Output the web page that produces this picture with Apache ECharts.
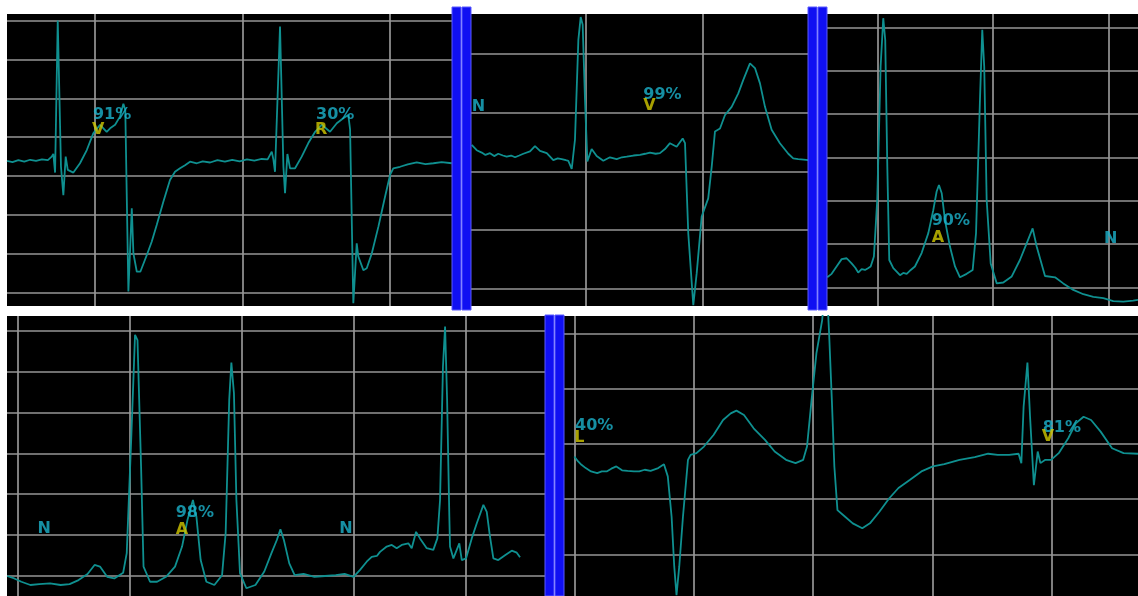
<!DOCTYPE html>
<html>
<head>
<meta charset="utf-8">
<title>ECG beat strips</title>
<script src="https://cdn.jsdelivr.net/npm/echarts@6/dist/echarts.min.js"></script>
<style>
html, body { margin: 0; padding: 0; background: #fff; }
#main { width: 1138px; height: 596px; }
</style>
</head>
<body>
<div id="main"></div>
<script>
// x = big-grid columns, y = big-grid rows (one unit per grid square)
var beatA = [
  [0.403,3.39],[0.44,3.36],[0.48,3.41],[0.52,3.37],[0.56,3.42],[0.6,3.39],[0.64,3.43],[0.68,3.41],
  [0.706,3.5],[0.717,3.57],[0.729,3.09],[0.747,7.0],[0.758,6.97],[0.769,3.24],[0.785,2.51],[0.801,3.5],
  [0.815,3.16],[0.853,3.09],[0.898,3.33],[0.944,3.67],[0.988,4.1],[1.034,4.32],[1.079,4.14],[1.102,4.23],
  [1.136,4.32],[1.169,4.53],[1.192,4.86],[1.205,4.7],[1.226,0.03],[1.249,2.17],[1.26,1.01],[1.283,0.54],
  [1.307,0.54],[1.351,0.97],[1.384,1.31],[1.418,1.74],[1.463,2.34],[1.508,2.9],[1.542,3.11],[1.576,3.2],
  [1.61,3.28],[1.644,3.37],[1.69,3.33],[1.73,3.38],[1.78,3.35],[1.83,3.41],[1.88,3.37],[1.93,3.42],
  [1.98,3.38],[2.03,3.43],[2.08,3.4],[2.13,3.44],[2.17,3.43],[2.198,3.63],[2.209,3.43],[2.22,3.11],
  [2.254,6.85],[2.266,6.8],[2.277,3.24],[2.288,2.56],[2.304,3.57],[2.322,3.2],[2.356,3.2],[2.401,3.5],
  [2.446,3.85],[2.492,4.14],[2.537,4.32],[2.593,4.14],[2.639,4.36],[2.683,4.49],[2.717,4.57],[2.729,4.2],
  [2.751,-0.27],[2.774,1.27],[2.785,0.93],[2.819,0.58],[2.842,0.63],[2.876,1.01],[2.921,1.7],[2.966,2.47],
  [3.0,3.03],[3.022,3.2],[3.068,3.24],[3.12,3.3],[3.181,3.35],[3.24,3.31],[3.294,3.33],[3.35,3.36],[3.418,3.33]
];
var beatB = [
  [0.022,2.45],[0.065,2.36],[0.108,2.32],[0.14,2.28],[0.179,2.31],[0.215,2.26],[0.25,2.3],[0.29,2.27],
  [0.322,2.25],[0.36,2.27],[0.394,2.24],[0.43,2.27],[0.465,2.3],[0.522,2.34],[0.565,2.43],[0.608,2.35],
  [0.666,2.31],[0.722,2.19],[0.76,2.22],[0.794,2.21],[0.83,2.19],[0.851,2.18],[0.88,2.04],[0.908,2.54],
  [0.937,4.24],[0.957,4.63],[0.974,4.5],[0.994,3.22],[1.014,2.17],[1.051,2.38],[1.094,2.26],[1.151,2.18],
  [1.208,2.24],[1.266,2.21],[1.31,2.24],[1.352,2.25],[1.41,2.27],[1.466,2.28],[1.51,2.3],[1.551,2.32],
  [1.6,2.3],[1.637,2.31],[1.68,2.38],[1.723,2.48],[1.78,2.42],[1.832,2.56],[1.852,2.48],[1.88,0.94],
  [1.923,-0.28],[1.952,0.26],[1.995,1.23],[2.051,1.54],[2.081,2.08],[2.109,2.68],[2.152,2.73],[2.195,2.96],
  [2.252,3.1],[2.309,3.33],[2.352,3.56],[2.409,3.84],[2.452,3.76],[2.495,3.5],[2.538,3.1],[2.595,2.71],
  [2.666,2.48],[2.738,2.3],[2.78,2.22],[2.823,2.21],[2.87,2.2],[2.909,2.19]
];
var beatC = [
  [0.567,0.23],[0.605,0.31],[0.648,0.48],[0.692,0.65],[0.735,0.67],[0.778,0.55],[0.81,0.45],[0.835,0.34],
  [0.865,0.42],[0.894,0.4],[0.92,0.44],[0.943,0.48],[0.971,0.71],[1.0,2.02],[1.029,5.09],[1.052,6.21],
  [1.069,5.71],[1.087,2.78],[1.104,0.63],[1.139,0.44],[1.197,0.28],[1.225,0.33],[1.255,0.31],[1.29,0.4],
  [1.326,0.48],[1.384,0.79],[1.442,1.25],[1.485,1.78],[1.514,2.21],[1.534,2.36],[1.558,2.17],[1.586,1.55],
  [1.629,0.94],[1.673,0.48],[1.716,0.23],[1.774,0.31],[1.826,0.4],[1.855,1.25],[1.889,4.32],[1.909,5.94],
  [1.926,5.09],[1.947,2.02],[1.982,0.55],[2.034,0.09],[2.091,0.11],[2.164,0.25],[2.235,0.63],[2.294,1.02],
  [2.345,1.36],[2.38,0.94],[2.452,0.26],[2.539,0.23],[2.61,0.09],[2.697,-0.06],[2.784,-0.16],[2.87,-0.22],
  [2.957,-0.25],[3.043,-0.32],[3.13,-0.33],[3.216,-0.31],[3.257,-0.29]
];
var beatD = [
  [-0.097,0.0],[-0.033,-0.06],[0.03,-0.14],[0.111,-0.22],[0.19,-0.2],[0.286,-0.18],[0.381,-0.22],[0.461,-0.2],
  [0.541,-0.1],[0.621,0.05],[0.684,0.27],[0.732,0.23],[0.796,-0.02],[0.86,-0.06],[0.939,0.08],[0.971,0.56],
  [1.013,3.49],[1.045,5.9],[1.067,5.77],[1.099,2.67],[1.121,0.23],[1.179,-0.14],[1.242,-0.14],[1.322,-0.02],
  [1.402,0.23],[1.465,0.72],[1.513,1.37],[1.562,1.86],[1.593,1.45],[1.631,0.39],[1.682,-0.14],[1.753,-0.22],
  [1.822,0.02],[1.854,1.05],[1.886,4.31],[1.905,5.22],[1.928,4.47],[1.95,1.86],[1.982,0.07],[2.039,-0.3],
  [2.12,-0.22],[2.199,0.11],[2.263,0.56],[2.311,0.88],[2.343,1.14],[2.374,0.88],[2.422,0.31],[2.47,0.02],
  [2.55,0.05],[2.646,-0.02],[2.741,0.0],[2.837,0.02],[2.916,0.05],[2.996,-0.02],[3.054,0.15],[3.113,0.35],
  [3.158,0.47],[3.204,0.49],[3.232,0.59],[3.292,0.72],[3.337,0.76],[3.381,0.68],[3.426,0.76],[3.485,0.8],
  [3.515,0.68],[3.554,1.08],[3.589,0.92],[3.649,0.68],[3.708,0.64],[3.744,0.92],[3.768,1.86],[3.794,5.12],
  [3.813,6.1],[3.831,4.31],[3.851,1.45],[3.857,0.72],[3.887,0.43],[3.94,0.8],[3.962,0.39],[4.0,0.43],
  [4.051,0.92],[4.096,1.29],[4.155,1.74],[4.185,1.57],[4.214,0.96],[4.244,0.43],[4.288,0.39],[4.348,0.51],
  [4.408,0.62],[4.453,0.57],[4.482,0.46]
];
var beatE = [
  [0,1.77],[0.032,1.68],[0.06,1.62],[0.096,1.56],[0.14,1.5],[0.192,1.47],[0.23,1.5],[0.271,1.5],
  [0.31,1.55],[0.352,1.59],[0.4,1.52],[0.447,1.51],[0.5,1.5],[0.544,1.5],[0.59,1.53],[0.639,1.51],
  [0.703,1.56],[0.751,1.63],[0.783,1.41],[0.815,0.68],[0.837,-0.22],[0.856,-0.74],[0.879,-0.22],[0.91,0.68],
  [0.952,1.71],[0.974,1.8],[1.023,1.83],[1.086,1.95],[1.166,2.16],[1.246,2.43],[1.31,2.55],[1.358,2.6],
  [1.421,2.52],[1.502,2.28],[1.597,2.07],[1.678,1.86],[1.773,1.71],[1.853,1.65],[1.917,1.71],[1.949,1.95],
  [1.987,2.79],[2.028,3.64],[2.076,4.24],[2.095,4.7],[2.118,4.7],[2.134,4.0],[2.157,2.79],[2.178,1.59],
  [2.204,0.8],[2.268,0.68],[2.332,0.56],[2.412,0.47],[2.476,0.56],[2.555,0.77],[2.636,1.01],[2.715,1.2],
  [2.812,1.35],[2.907,1.5],[3.003,1.59],[3.099,1.63],[3.226,1.71],[3.354,1.76],[3.466,1.82],[3.546,1.8],
  [3.642,1.8],[3.721,1.82],[3.744,1.65],[3.763,2.67],[3.795,3.47],[3.817,2.49],[3.849,1.25],[3.881,1.86],
  [3.904,1.65],[3.945,1.71],[3.993,1.71],[4.057,1.83],[4.137,2.1],[4.2,2.37],[4.265,2.49],[4.328,2.43],
  [4.408,2.22],[4.504,1.92],[4.6,1.83],[4.721,1.82]
];

// beat annotations: [x, y, text]
var tagsA = [[0.986,4.57,'91%'],[0.98,4.19,'V'],[2.498,4.57,'30%'],[2.492,4.19,'R']];
var tagsB = [[0.022,3.1,'N'],[1.494,3.3,'99%'],[1.494,3.11,'V']];
var tagsC = [[1.471,1.53,'90%'],[1.471,1.14,'A'],[2.963,1.12,'N']];
var tagsD = [[0.174,1.15,'N'],[1.408,1.54,'98%'],[1.408,1.13,'A'],[2.869,1.15,'N']];
var tagsE = [[0.006,2.32,'40%'],[0,2.11,'L'],[3.923,2.29,'81%'],[3.915,2.12,'V']];

// visible window of each strip, in grid units
var xRanges = [[0.403,3.42],[0.016,2.907],[0.565,3.257],[-0.098,4.705],[-0.103,4.721]];
var yRanges = [[-0.342,7.17],[-0.295,4.682],[-0.432,6.307],[-0.489,6.36],[-0.755,4.313]];

var panels = [
  {trace: beatA, tags: tagsA, box: [7, 14, 445, 292]},
  {trace: beatB, tags: tagsB, box: [471, 14, 337, 292]},
  {trace: beatC, tags: tagsC, box: [827, 14, 311, 292]},
  {trace: beatD, tags: tagsD, box: [7, 316, 538, 280]},
  {trace: beatE, tags: tagsE, box: [562, 316, 576, 280]}
];
var separators = [[452, 7, 303], [808, 7, 303], [545, 315, 281]];

function axis(i, range) {
  return {
    type: 'value', gridIndex: i, min: range[0], max: range[1],
    minInterval: 1, maxInterval: 1,
    axisLine: {show: false}, axisTick: {show: false}, axisLabel: {show: false},
    splitLine: {show: true, showMinLine: false, showMaxLine: false,
      lineStyle: {color: '#969696', width: 1.7}}
  };
}

var chart = echarts.init(document.getElementById('main'));
var option = {
  animation: false,
  backgroundColor: '#fff',
  grid: [], xAxis: [], yAxis: [], series: [], graphic: []
};

panels.forEach(function (p, i) {
  option.grid.push({left: p.box[0], top: p.box[1], width: p.box[2], height: p.box[3],
    show: true, backgroundColor: '#000', borderWidth: 0});
  option.xAxis.push(axis(i, xRanges[i]));
  option.yAxis.push(axis(i, yRanges[i]));
  option.series.push({
    type: 'line', xAxisIndex: i, yAxisIndex: i, data: p.trace,
    symbol: 'none', lineStyle: {color: '#0f9090', width: 1.8}, z: 2
  });
  option.series.push({
    type: 'scatter', xAxisIndex: i, yAxisIndex: i, symbolSize: 0, z: 5,
    data: p.tags.map(function (t) {
      var yellow = t[2].indexOf('%') < 0 && t[2] !== 'N';
      return {value: t, label: {color: yellow ? '#d2c800' : '#1cb3cc'}};
    }),
    label: {
      show: true, position: [0, 0], align: 'left', verticalAlign: 'middle',
      fontFamily: 'DejaVu Sans', fontWeight: 'bold', fontSize: 16,
      formatter: function (d) { return d.value[2]; }
    }
  });
});

separators.forEach(function (s) {
  [0, 10].forEach(function (dx) {
    option.graphic.push({
      type: 'rect', z: 100,
      shape: {x: s[0] + dx, y: s[1], width: 9, height: s[2]},
      style: {fill: '#1010f2', stroke: '#5a5aff', lineWidth: 1}
    });
  });
});

chart.setOption(option);
</script>
</body>
</html>
